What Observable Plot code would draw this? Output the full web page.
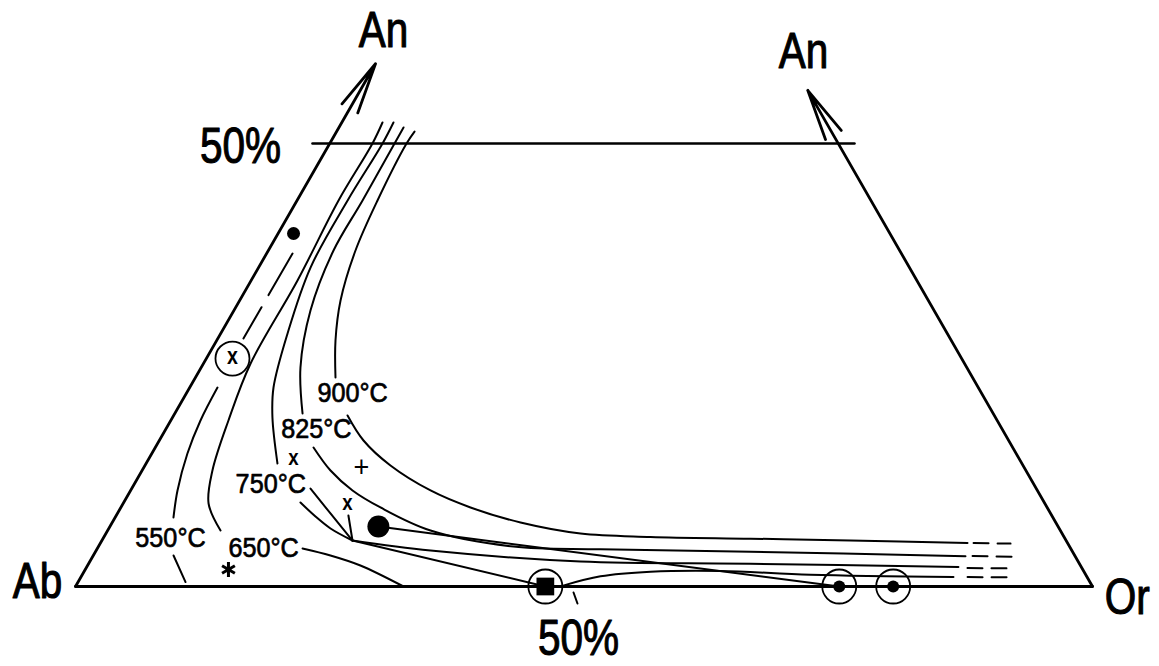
<!DOCTYPE html>
<html><head><meta charset="utf-8">
<script src="https://cdn.jsdelivr.net/npm/d3@7"></script>
<script src="https://cdn.jsdelivr.net/npm/@observablehq/plot@0.6"></script>
<style>body{margin:0;background:#fff}</style>
</head><body><div id="chart"></div>
<script>
// All values are feldspar compositions [Or %, An %]  (Ab = 100 - Or - An)
const iso900Upper = [[7.66,51.35],[7.55,50.0],[7.91,43.57],[8.57,37.92],[9.92,32.28],[11.68,27.77],[13.77,23.59]];
const iso900Lower = [[17.10,19.30],[20.08,16.48],[24.14,13.66],[29.49,10.84],[34.38,8.92],[40.15,7.22],[46.67,5.98],[53.74,5.60],[63.67,5.40],[73.60,5.19],[85.26,4.90]];
const iso900Ext = [[85.85,4.91],[89.52,4.84]];

const iso825Upper = [[6.35,51.81],[6.37,50.0],[6.44,43.57],[6.41,37.92],[7.53,31.15],[9.76,24.72],[12.56,19.53]];
const iso825Lower = [[15.56,15.69],[18.53,13.09],[21.82,10.84],[25.53,8.92],[31.75,6.32],[40.81,4.51],[49.52,4.20],[64.41,3.93],[85.80,3.42]];
const iso825Ext = [[86.49,3.43],[90.45,3.36]];

const iso750Upper = [[5.08,52.37],[5.19,50.0],[4.97,43.57],[5.11,36.0],[6.57,28.56],[8.24,22.46],[9.83,19.07],[12.92,13.88]];
const iso750Lower = [[17.58,11.06],[20.95,8.24],[24.64,5.19]];
const iso750Right = [[24.64,5.19],[32.88,4.06],[48.25,2.82],[65.08,2.57],[85.72,2.19]];
const iso750Ext = [[86.66,2.09],[91.11,2.04]];

const iso650Upper = [[4.00,52.37],[4.20,50.0],[4.08,43.57],[4.56,34.54],[4.63,25.17],[5.67,18.74],[6.92,13.09],[8.40,9.37],[11.10,6.32]];
const iso650Lower = [[20.18,4.29],[23.32,3.50],[26.83,2.37],[32.25,0]];

const iso550Dashed = [[2.55,37.58],[2.52,27.99]];
const iso550Upper = [[2.73,22.46],[2.92,18.74],[3.50,15.01],[4.61,10.84],[5.74,7.79]];
const iso550Lower = [[7.89,3.50],[10.57,0.5]];

const kinkCurve = [[17.38,9.48],[19.65,7.90],[21.80,6.55],[24.64,5.19]];
const kinkToSquare = [[24.64,5.19],[46.2,0]];
const solvusRight = [[47.9,0.1],[51.05,1.15],[55.71,1.67],[62.54,1.76],[71.61,1.32],[85.80,1.06]];
const solvusExt = [[87.18,1.07],[91.62,1.03]];
const tieDot = [[26.40,6.77],[75.1,0]];
const tieX = [[22.83,8.01],[24.64,5.19]];

const smallDots = [[1.52,39.84]];
const bigDots = [[26.40,6.77]];
const circledX = [[2.57,25.73]];
const circledDots = [[75.1,0],[80.4,0]];
const circledSquares = [[46.2,0]];
const xMarks = [[14.27,14.33],[22.12,9.26]];
const plusMarks = [[21.40,13.43]];
const starMarks = [[14.08,1.92]];

const tempLabels = ["550°C","650°C","750°C","825°C","900°C"];
const tempLabelPos = [[6.63,5.42],[16.35,4.29],[13.40,11.6],[14.80,17.75],[16.35,21.78]];

const line50 = [[-1.7,50],[51.6,50]];
const baseTick = [[49.31,-0.68],[50.32,-1.92]];
const corners = {Ab:[0,0], Or:[100,0]};
const arrowTips = [[0,59],[44,56]];
const centerLabels = ["An","An","50%","50%"];
const centerLabelPos = [[-1.09,62.75],[41.39,60.38],[-8.61,49.66],[52.41,-5.9]];
const startLabels = ["Ab"];
const startLabelPos = [[-6.45,0.56]];
const endLabels = ["Or"];
const endLabelPos = [[106.3,-1.35]];

const P = a => a.map(([or, an]) => ({or, an}));
const X = d => d.or + d.an / 2;
const L = (names, pos) => names.map((t, i) => ({t, or: pos[i][0], an: pos[i][1]}));
const FONT = "'Liberation Sans',Arial,Helvetica,sans-serif";

const ln = (arr, o = {}) => Plot.line(P(arr), {x: X, y: "an", stroke: "black", strokeWidth: 2, curve: "catmull-rom", ...o});

const arrows = [
  {x1: X({or:corners.Ab[0], an:corners.Ab[1]}), y1: corners.Ab[1], x2: X({or:arrowTips[0][0], an:arrowTips[0][1]}), y2: arrowTips[0][1]},
  {x1: X({or:corners.Or[0], an:corners.Or[1]}), y1: corners.Or[1], x2: X({or:arrowTips[1][0], an:arrowTips[1][1]}), y2: arrowTips[1][1]}
];

const bigText = {x: X, y: "an", text: "t", fontSize: 50, fontFamily: FONT, fill: "black", stroke: "black", strokeWidth: 1.1};

const chart = Plot.plot({
  width: 1159, height: 666,
  marginLeft: 75, marginRight: 67, marginTop: 143, marginBottom: 80,
  x: {domain: [0, 100], axis: null},
  y: {domain: [0, 50], axis: null},
  style: {background: "white"},
  marks: [
    ln([corners.Ab, corners.Or], {strokeWidth: 2.8, curve: "linear"}),
    Plot.arrow(arrows, {x1: "x1", y1: "y1", x2: "x2", y2: "y2", stroke: "black", strokeWidth: 2.8, headLength: 28, headAngle: 20}),
    ln(line50, {strokeWidth: 2.5, curve: "linear"}),
    ln(baseTick, {strokeWidth: 2, curve: "linear"}),
    ln(iso900Upper), ln(iso900Lower), ln(iso900Ext, {strokeDasharray: "15,9", curve: "linear"}),
    ln(iso825Upper), ln(iso825Lower), ln(iso825Ext, {strokeDasharray: "15,9", curve: "linear"}),
    ln(iso750Upper), ln(iso750Lower, {curve: "linear"}), ln(iso750Right), ln(iso750Ext, {strokeDasharray: "15,9", curve: "linear"}),
    ln(iso650Upper), ln(iso650Lower),
    ln(iso550Dashed, {strokeDasharray: "48,14", curve: "linear"}), ln(iso550Upper), ln(iso550Lower, {curve: "linear"}),
    ln(kinkCurve), ln(kinkToSquare, {curve: "linear"}),
    ln(solvusRight), ln(solvusExt, {strokeDasharray: "15,9", curve: "linear"}),
    ln(tieDot, {curve: "linear"}), ln(tieX, {curve: "linear"}),
    Plot.dot(P(smallDots), {x: X, y: "an", r: 6.5, fill: "black"}),
    Plot.dot(P(bigDots), {x: X, y: "an", r: 11, fill: "black"}),
    Plot.dot(P(circledX), {x: X, y: "an", r: 17, stroke: "black", strokeWidth: 1.8, fill: "none"}),
    Plot.text(P(circledX), {x: X, y: "an", text: () => "x", fontSize: 23, fontWeight: "bold", fontFamily: FONT, dy: -2}),
    Plot.dot(P(circledDots), {x: X, y: "an", r: 17, stroke: "black", strokeWidth: 1.8, fill: "none"}),
    Plot.dot(P(circledDots), {x: X, y: "an", r: 6, fill: "black"}),
    Plot.dot(P(circledSquares), {x: X, y: "an", r: 17, stroke: "black", strokeWidth: 1.8, fill: "none"}),
    Plot.dot(P(circledSquares), {x: X, y: "an", r: 10, symbol: "square", fill: "black"}),
    Plot.text(P(xMarks), {x: X, y: "an", text: () => "x", fontSize: 22, fontWeight: "bold", fontFamily: FONT, dy: -2}),
    Plot.text(P(plusMarks), {x: X, y: "an", text: () => "+", fontSize: 30, fontFamily: FONT}),
    Plot.dot(P(starMarks), {x: X, y: "an", r: 7, symbol: "asterisk", stroke: "black", strokeWidth: 3}),
    Plot.text(L(tempLabels, tempLabelPos), {x: X, y: "an", text: "t", fontSize: 28, fontFamily: FONT, fill: "black", stroke: "black", strokeWidth: 0.7}),
    Plot.text(L(centerLabels, centerLabelPos), bigText),
    Plot.text(L(startLabels, startLabelPos), {...bigText, textAnchor: "start"}),
    Plot.text(L(endLabels, endLabelPos), {...bigText, textAnchor: "end"})
  ]
});
document.getElementById("chart").appendChild(chart);
// condense glyphs horizontally, like the narrow Helvetica of the original
chart.querySelectorAll("text").forEach(t => {
  const fs = parseFloat(getComputedStyle(t).fontSize);
  const f = fs >= 40 ? 0.81 : fs >= 27 ? 0.9 : 0.85;
  const w = t.getComputedTextLength();
  if (w > 0) { t.setAttribute("textLength", (w * f).toFixed(1)); t.setAttribute("lengthAdjust", "spacingAndGlyphs"); }
});
</script>
</body></html>
